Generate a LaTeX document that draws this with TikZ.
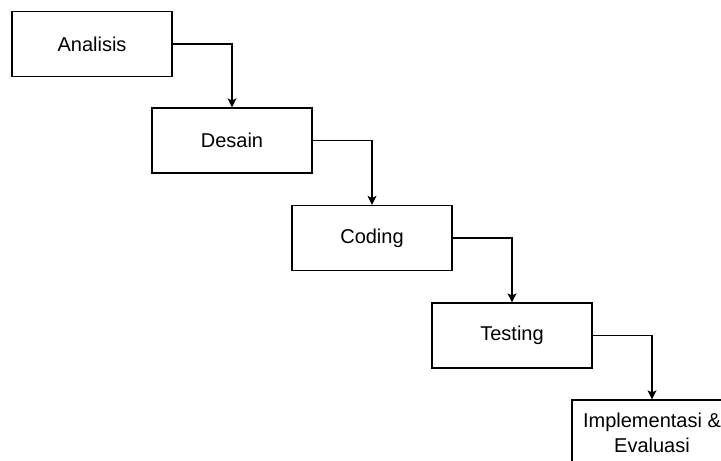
\documentclass[tikz,border=0pt]{standalone}
\usepackage{fontspec}
\setmainfont{Liberation Sans}
\usetikzlibrary{arrows.meta}

\tikzset{
	stage/.style={draw, thick, line width=1.2pt, rectangle, minimum width=160pt, minimum height=65pt, inner sep=0pt, align=center, font=\fontsize{20}{25}\selectfont},
	flow/.style={line width=1.2pt, arrows={-{Stealth[length=9pt, width=9pt, inset=2pt]}}}
}

\begin{document}
\begin{tikzpicture}[x=1pt, y=-1pt]
		\useasboundingbox (0, 0) rectangle (721, 461);
		\clip (0, 0) rectangle (721, 461);

		%%% Stages
		\node[stage] (analisis) at (92, 44) {Analisis};
		\node[stage] (desain) at (232, 140.5) {Desain};
		\node[stage] (coding) at (372, 238) {Coding};
		\node[stage] (testing) at (512, 335.5) {Testing};
		\node[stage] (implementasi) at (652, 432.5) {Implementasi \&\\Evaluasi};

		%%% Flow between stages
		\draw[flow] (analisis.east) -| (desain.north);
		\draw[flow] (desain.east) -| (coding.north);
		\draw[flow] (coding.east) -| (testing.north);
		\draw[flow] (testing.east) -| (implementasi.north);
\end{tikzpicture}
\end{document}
